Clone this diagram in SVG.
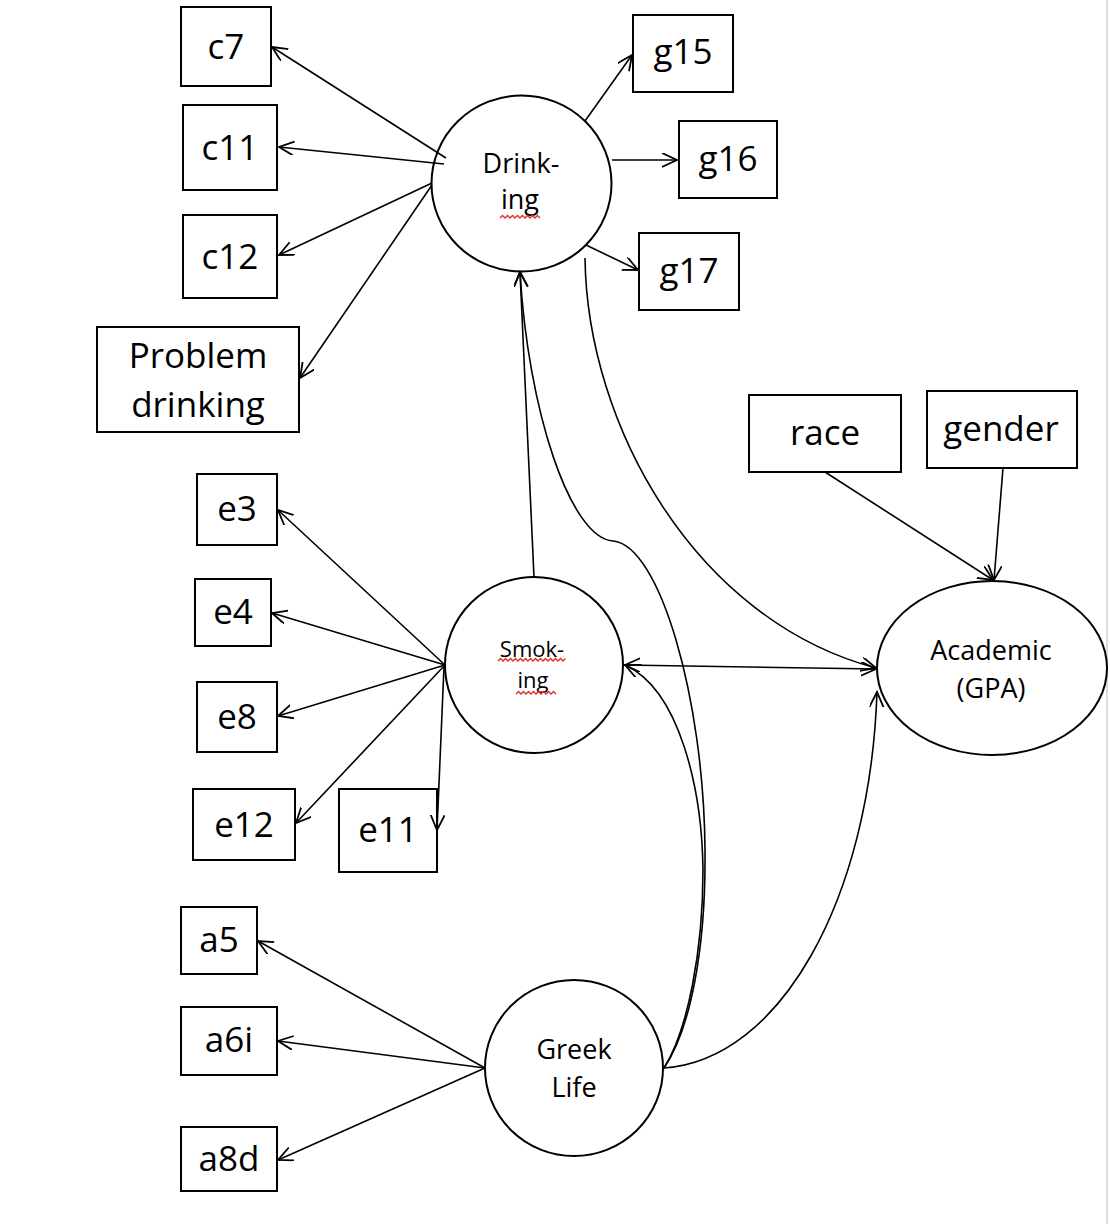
<svg xmlns="http://www.w3.org/2000/svg" width="1110" height="1224" viewBox="0 0 1110 1224">
<style>
.box{fill:#fff;stroke:#000;stroke-width:2}
.node{fill:#fff;stroke:#000;stroke-width:2}
.lbl{font-family:"Open Sans","Noto Sans","Liberation Sans",sans-serif;font-size:35px;fill:#000;text-anchor:middle}
.clbl{font-family:"Open Sans","Noto Sans","Liberation Sans",sans-serif;font-size:27px;fill:#000;text-anchor:middle}
.slbl{font-family:"Open Sans","Noto Sans","Liberation Sans",sans-serif;font-size:22px;fill:#000;text-anchor:middle}
.edge{fill:none;stroke:#000;stroke-width:1.6;marker-end:url(#ah)}
.wavy{fill:none;stroke:#e0302a;stroke-width:1.4}
</style>
<defs>
<marker id="ah" markerUnits="userSpaceOnUse" markerWidth="18" markerHeight="16" refX="15" refY="7" orient="auto-start-reverse">
<path d="M0,0 L15,7 L0,14" fill="none" stroke="#000" stroke-width="1.8"/>
</marker>
</defs>
<rect x="0" y="0" width="1110" height="1224" fill="#fff"/>
<line x1="1107" y1="0" x2="1107" y2="1224" stroke="#ddd" stroke-width="2"/>

<g id="c7"><rect class="box" x="181" y="7" width="90" height="79"/><text class="lbl" x="226" y="59">c7</text></g>
<g id="c11"><rect class="box" x="183" y="105" width="94" height="85"/><text class="lbl" x="230" y="160">c11</text></g>
<g id="c12"><rect class="box" x="183" y="215" width="94" height="83"/><text class="lbl" x="230" y="269">c12</text></g>
<g id="problem-drinking"><rect class="box" x="97" y="327" width="202" height="105"/><text class="lbl" x="198" y="368">Problem</text><text class="lbl" x="198" y="417">drinking</text></g>
<g id="g15"><rect class="box" x="633" y="15" width="100" height="77"/><text class="lbl" x="683" y="64">g15</text></g>
<g id="g16"><rect class="box" x="679" y="121" width="98" height="77"/><text class="lbl" x="728" y="171">g16</text></g>
<g id="g17"><rect class="box" x="639" y="233" width="100" height="77"/><text class="lbl" x="689" y="283">g17</text></g>
<g id="race"><rect class="box" x="749" y="395" width="152" height="77"/><text class="lbl" x="825" y="445">race</text></g>
<g id="gender"><rect class="box" x="927" y="391" width="150" height="77"/><text class="lbl" x="1001" y="441">gender</text></g>
<g id="e3"><rect class="box" x="197" y="474" width="80" height="71"/><text class="lbl" x="237" y="521">e3</text></g>
<g id="e4"><rect class="box" x="195" y="579" width="76" height="67"/><text class="lbl" x="233" y="624">e4</text></g>
<g id="e8"><rect class="box" x="197" y="682" width="80" height="70"/><text class="lbl" x="237" y="729">e8</text></g>
<g id="e12"><rect class="box" x="193" y="789" width="102" height="71"/><text class="lbl" x="244" y="837">e12</text></g>
<g id="e11"><rect class="box" x="339" y="789" width="98" height="83"/><text class="lbl" x="388" y="842">e11</text></g>
<g id="a5"><rect class="box" x="181" y="907" width="76" height="67"/><text class="lbl" x="219" y="952">a5</text></g>
<g id="a6i"><rect class="box" x="181" y="1007" width="96" height="68"/><text class="lbl" x="229" y="1052">a6i</text></g>
<g id="a8d"><rect class="box" x="181" y="1127" width="96" height="64"/><text class="lbl" x="229" y="1171">a8d</text></g>

<g id="drinking">
<ellipse class="node" cx="521.5" cy="183.5" rx="90" ry="88"/>
<text class="clbl" x="521" y="173">Drink-</text>
<text class="clbl" x="520" y="209">ing</text>
<polyline class="wavy" points="500,218 502.5,215.5 505,218 507.5,215.5 510,218 512.5,215.5 515,218 517.5,215.5 520,218 522.5,215.5 525,218 527.5,215.5 530,218 532.5,215.5 535,218 537.5,215.5 540,218"/>
</g>
<g id="smoking">
<ellipse class="node" cx="534" cy="665" rx="89" ry="88"/>
<text class="slbl" x="532" y="657">Smok-</text>
<text class="slbl" x="533" y="688">ing</text>
<polyline class="wavy" points="498,661 500.5,658.5 503,661 505.5,658.5 508,661 510.5,658.5 513,661 515.5,658.5 518,661 520.5,658.5 523,661 525.5,658.5 528,661 530.5,658.5 533,661 535.5,658.5 538,661 540.5,658.5 543,661 545.5,658.5 548,661 550.5,658.5 553,661 555.5,658.5 558,661 560.5,658.5 563,661 565.5,658.5"/>
<polyline class="wavy" points="516,694 518.5,691.5 521,694 523.5,691.5 526,694 528.5,691.5 531,694 533.5,691.5 536,694 538.5,691.5 541,694 543.5,691.5 546,694 548.5,691.5 551,694 553.5,691.5 556,694"/>
</g>
<g id="academic">
<ellipse class="node" cx="992" cy="668" rx="115" ry="87"/>
<text class="clbl" x="991" y="660">Academic</text>
<text class="clbl" x="991" y="698">(GPA)</text>
</g>
<g id="greek-life">
<ellipse class="node" cx="574" cy="1068" rx="89" ry="88"/>
<text class="clbl" x="574" y="1059">Greek</text>
<text class="clbl" x="574" y="1097">Life</text>
</g>

<g id="connectors">
<line class="edge" x1="446" y1="158" x2="272" y2="47"/>
<line class="edge" x1="444" y1="164" x2="279" y2="147"/>
<line class="edge" x1="432" y1="183" x2="279" y2="255"/>
<line class="edge" x1="432" y1="185" x2="300" y2="378"/>
<line class="edge" x1="585" y1="121" x2="632" y2="55"/>
<line class="edge" x1="612" y1="160" x2="677" y2="160"/>
<line class="edge" x1="586" y1="245" x2="638" y2="270"/>
<line class="edge" x1="534" y1="577" x2="520" y2="272"/>
<path class="edge" d="M664,1068 C690,1030 706,950 705,850 C704,700 660,545 613,541 C570,538 528,410 520,272"/>
<path class="edge" d="M664,1068 C688,1030 703,950 703,870 C702,790 680,690 625,665"/>
<path class="edge" d="M585,258 C587,425 695,620 876,668"/>
<line class="edge" x1="625" y1="665" x2="876" y2="669" style="marker-start:url(#ah)"/>
<path class="edge" d="M664,1068 C780,1060 870,900 877,692"/>
<line class="edge" x1="825" y1="472" x2="993" y2="580"/>
<line class="edge" x1="1003" y1="468" x2="994" y2="580"/>
<line class="edge" x1="445" y1="665" x2="278" y2="510"/>
<line class="edge" x1="445" y1="665" x2="272" y2="613"/>
<line class="edge" x1="445" y1="665" x2="278" y2="716"/>
<line class="edge" x1="445" y1="665" x2="296" y2="823"/>
<line class="edge" x1="444" y1="667" x2="437" y2="830"/>
<line class="edge" x1="485" y1="1068" x2="258" y2="941"/>
<line class="edge" x1="485" y1="1068" x2="278" y2="1041"/>
<line class="edge" x1="485" y1="1068" x2="278" y2="1160"/>
</g>
</svg>
